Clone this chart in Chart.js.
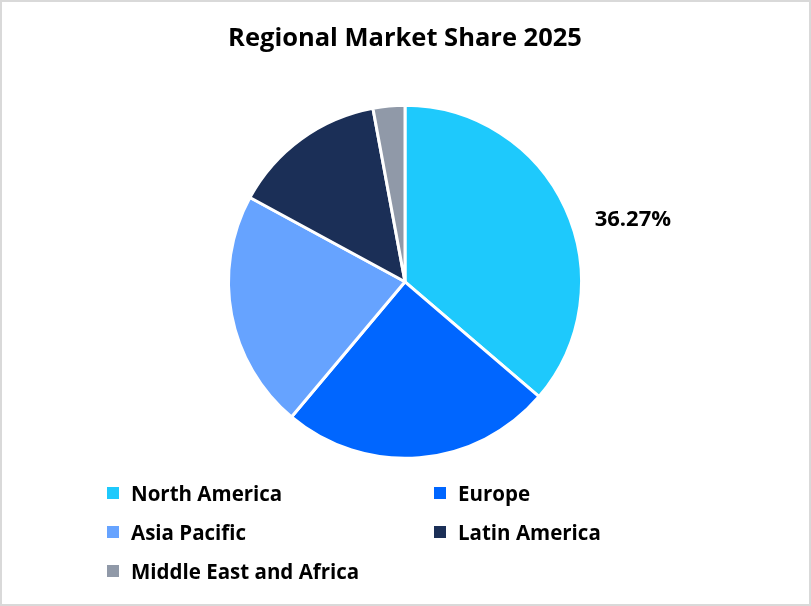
<!DOCTYPE html>
<html>
<head>
<meta charset="utf-8">
<script src="https://cdn.jsdelivr.net/npm/chart.js@4.4.1/dist/chart.umd.min.js"></script>
<style>
  html, body { margin: 0; padding: 0; background: #fff; }
  #wrap { position: relative; width: 811px; height: 606px; overflow: hidden; }
  #frame { position: absolute; left: 0; top: 0; width: 811px; height: 606px; box-sizing: border-box;
           border: 2px solid #d9d9d9; pointer-events: none; }
  #legend { position: absolute; left: 107px; top: 474px; display: grid;
            grid-template-columns: 327px 300px; grid-auto-rows: 38.7px;
            font-family: "Open Sans", Lato, sans-serif; font-weight: bold; font-size: 20.5px; color: #000; }
  #legend .item { display: flex; align-items: center; }
  #legend .box { width: 12px; height: 12px; margin-right: 12px; flex: none; }
</style>
</head>
<body>
<div id="wrap">
  <canvas id="mycanvas" width="811" height="606"></canvas>
  <div id="legend"></div>
  <div id="frame"></div>
</div>
<script>
var regions = ["North America", "Europe", "Asia Pacific", "Latin America", "Middle East and Africa"];
var share = [36.27, 24.85, 21.80, 14.17, 2.91];
var colors = ["#1ec9fc", "#0066ff", "#66a3ff", "#1b2f57", "#9099a8"];
var labelled = [0]; // only the biggest slice carries a value label

var fontFamily = "'Open Sans', Lato, sans-serif";

// value label drawn outside the slice
var outsideLabel = {
  id: "outsideLabel",
  afterDatasetsDraw: function(chart) {
    var ctx = chart.ctx;
    var meta = chart.getDatasetMeta(0);
    labelled.forEach(function(i) {
      var arc = meta.data[i];
      var mid = (arc.startAngle + arc.endAngle) / 2 + 0.16;
      var dist = arc.outerRadius * 1.34;
      var x = arc.x + Math.cos(mid) * dist;
      var y = arc.y + Math.sin(mid) * dist;
      ctx.save();
      ctx.font = "bold 22px " + fontFamily;
      ctx.fillStyle = "#000";
      ctx.textAlign = "center";
      ctx.textBaseline = "middle";
      ctx.fillText(share[i].toFixed(2) + "%", x, y + 1);
      ctx.restore();
    });
  }
};

var ctx = document.getElementById("mycanvas");
var pieChart = new Chart(ctx, {
  type: "pie",
  data: {
    labels: regions,
    datasets: [{
      data: share,
      backgroundColor: colors,
      borderColor: "#ffffff",
      borderWidth: 3
    }]
  },
  options: {
    responsive: false,
    animation: false,
    layout: { padding: { left: 227, right: 228, top: 0, bottom: 146 } },
    plugins: {
      legend: { display: false },
      tooltip: { enabled: false },
      title: {
        display: true,
        text: "Regional Market Share 2025",
        color: "#000",
        font: { family: fontFamily, size: 25.5, weight: "bold" },
        padding: { top: 23, bottom: 50 }
      }
    }
  },
  plugins: [outsideLabel]
});

// two-column legend
var legend = document.getElementById("legend");
regions.forEach(function(name, i) {
  var item = document.createElement("div");
  item.className = "item";
  var box = document.createElement("span");
  box.className = "box";
  box.style.background = colors[i];
  item.appendChild(box);
  item.appendChild(document.createTextNode(name));
  legend.appendChild(item);
});
</script>
</body>
</html>
